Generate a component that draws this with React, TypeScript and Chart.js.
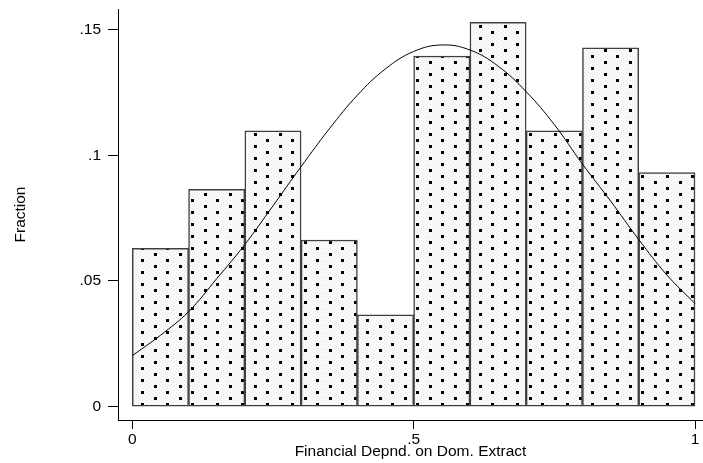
import { useEffect, useRef } from 'react';
import { Chart, registerables } from 'chart.js';
Chart.register(...registerables);

// Histogram bins (width 0.1), centers and fraction heights
const binCenters = [0.05, 0.15, 0.25, 0.35, 0.45, 0.55, 0.65, 0.75, 0.85, 0.95];
const fractions = [0.063, 0.0865, 0.1097, 0.0663, 0.0365, 0.1395, 0.1529, 0.1097, 0.1428, 0.0931];

// Overlaid normal curve
const curveX = [0, 0.05, 0.1, 0.15, 0.2, 0.25, 0.3, 0.35, 0.4, 0.45, 0.5, 0.55, 0.6, 0.65, 0.7, 0.75, 0.8, 0.85, 0.9, 0.95, 1];
const curveY = [0.0203, 0.0284, 0.0378, 0.0509, 0.0645, 0.0799, 0.0955, 0.1105, 0.1239, 0.1344, 0.1413, 0.1439, 0.1419, 0.1355, 0.1253, 0.1122, 0.0965, 0.0818, 0.0665, 0.0524, 0.041];

const yTicks = [0, 0.05, 0.1, 0.15];
const yTickLabels = ['0', '.05', '.1', '.15'];
const xTicks = [0, 0.5, 1];
const xTickLabels = ['0', '.5', '1'];

const xTitle = 'Financial Depnd. on Dom. Extract';
const yTitle = 'Fraction';

function makePattern(ctx: CanvasRenderingContext2D): CanvasPattern | string {
  const W = 25;
  const H = 12;
  const c = document.createElement('canvas');
  c.width = W;
  c.height = H;
  const p = c.getContext('2d');
  if (!p) return '#f4f4f4';
  p.fillStyle = '#fafafa';
  p.fillRect(0, 0, W, H);
  p.fillStyle = '#e4e4e4';
  for (let y = 0; y < H; y += 2) {
    for (let x = (y / 2) % 2 === 0 ? 1 : 3; x < W; x += 4) p.fillRect(x, y, 1, 1);
  }
  p.fillStyle = '#000';
  p.fillRect(4, 1, 3, 3);
  p.fillRect(16, 7, 3, 3);
  return ctx.createPattern(c, 'repeat') || '#f4f4f4';
}

export default function App() {
  const ref = useRef<HTMLCanvasElement | null>(null);
  useEffect(() => {
    const canvas = ref.current;
    if (!canvas) return;
    const ctx = canvas.getContext('2d');
    if (!ctx) return;
    const pattern = makePattern(ctx);
    const font = { family: '"Liberation Sans", Arial, Helvetica, sans-serif', size: 15.5 };
    const chart = new Chart(ctx, {
      type: 'bar',
      data: {
        datasets: [
          {
            type: 'bar',
            data: binCenters.map((x, i) => ({ x, y: fractions[i] })),
            backgroundColor: pattern as any,
            borderColor: '#404040',
            borderWidth: 1.5,
            borderSkipped: false,
            barPercentage: 1,
            categoryPercentage: 1,
            order: 2,
          },
          {
            type: 'line',
            data: curveX.map((x, i) => ({ x, y: curveY[i] })),
            borderColor: '#000',
            borderWidth: 1,
            pointRadius: 0,
            tension: 0.4,
            fill: false,
            order: 1,
          },
        ] as any,
      },
      options: {
        animation: false,
        responsive: false,
        devicePixelRatio: 1,
        layout: { padding: { left: 0, top: 9, right: 0, bottom: 0 } },
        plugins: { legend: { display: false }, tooltip: { enabled: false } },
        scales: {
          x: {
            type: 'linear',
            min: -0.0254,
            max: 1.0142,
            offset: false,
            afterBuildTicks: (s: any) => { s.ticks = xTicks.map((v) => ({ value: v })); },
            afterFit: (s: any) => { s.height = 43; s.paddingLeft = 0; s.paddingRight = 0; },
            ticks: {
              color: '#000',
              font,
              padding: 1,
              maxRotation: 0,
              autoSkip: false,
              callback: (v: any) => xTickLabels[xTicks.indexOf(Number(v))] ?? '',
            },
            grid: { display: true, drawOnChartArea: false, drawTicks: true, tickLength: 9, color: '#000', offset: false },
            border: { display: true, color: '#000', width: 1 },
            title: { display: true, text: xTitle, color: '#000', font, padding: { top: 0, bottom: 2 } },
          },
          y: {
            type: 'linear',
            min: -0.0053,
            max: 0.1582,
            afterBuildTicks: (s: any) => { s.ticks = yTicks.map((v) => ({ value: v })); },
            afterFit: (s: any) => { s.width = 118; s.paddingTop = 0; s.paddingBottom = 0; },
            ticks: {
              color: '#000',
              font,
              padding: 7,
              autoSkip: false,
              callback: (v: any) => yTickLabels[yTicks.indexOf(Number(v))] ?? '',
            },
            grid: { display: true, drawOnChartArea: false, drawTicks: true, tickLength: 10, color: '#000' },
            border: { display: true, color: '#000', width: 1 },
            title: { display: true, text: yTitle, color: '#000', font, padding: { top: 11, bottom: 0 } },
          },
        },
      } as any,
    });
    return () => chart.destroy();
  }, []);
  return (
    <div style={{ position: 'absolute', left: 0, top: 0, width: 703, height: 463, background: '#fff' }}>
      <canvas ref={ref} width={703} height={463} style={{ display: 'block', width: 703, height: 463 }} />
    </div>
  );
}
